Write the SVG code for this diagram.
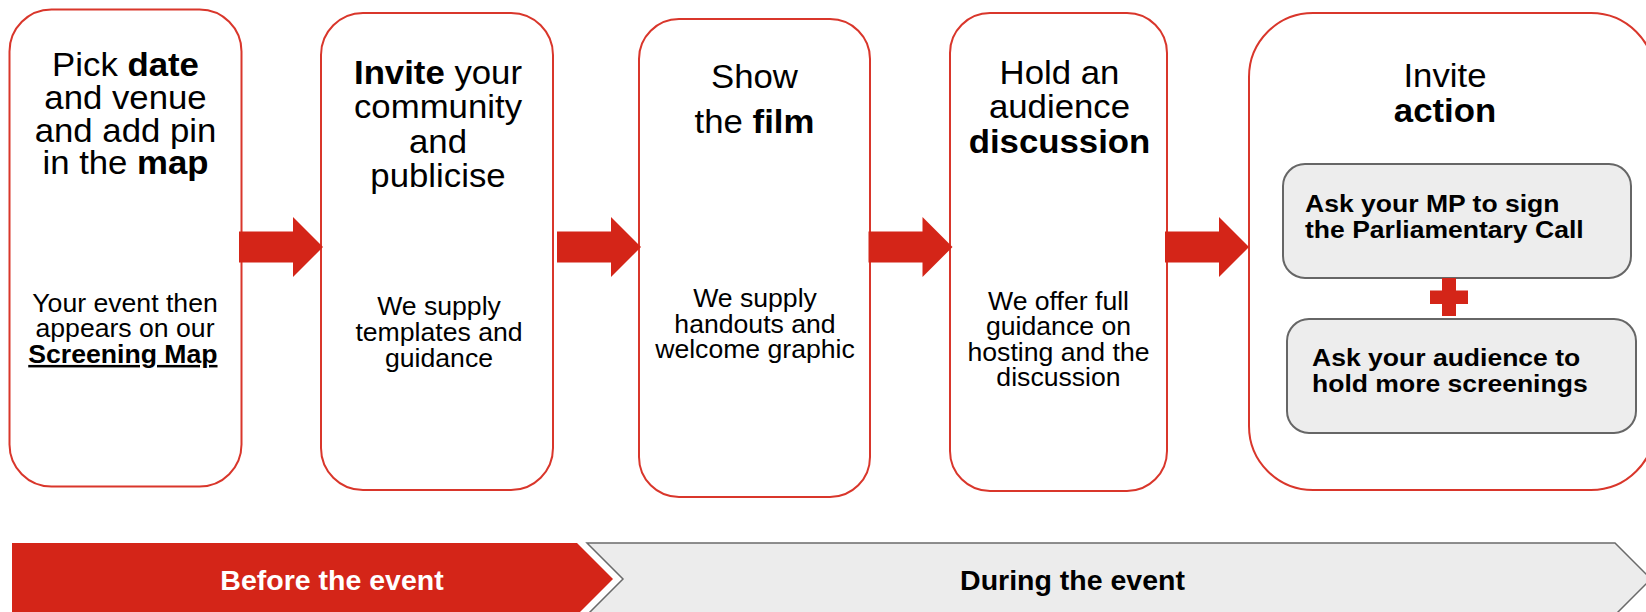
<svg xmlns="http://www.w3.org/2000/svg" width="1646" height="612" viewBox="0 0 1646 612">
  <style>
    .step { fill: #ffffff; stroke: #d9362b; stroke-width: 2; }
    .card { fill: #ededed; stroke: #666666; stroke-width: 2; }
    .red { fill: #d42518; }
    text { font-family: "Liberation Sans", Arial, Helvetica, sans-serif; fill: #000000; }
    .title { font-size: 32.5px; text-anchor: middle; }
    .sub { font-size: 25px; text-anchor: middle; }
    .card-text { font-size: 24.8px; font-weight: bold; }
    .phase { font-size: 28.5px; font-weight: bold; text-anchor: middle; }
    .b { font-weight: bold; }
  </style>
  <defs>
    <!-- block arrow: 54px shaft, 30px head, centred on y=0 -->
    <path id="block-arrow" d="M0,-15.5 H54 V-30 L84,0 L54,30 V15.5 H0 Z"/>
  </defs>

  <rect width="1646" height="612" fill="#ffffff"/>

  <!-- step 1 -->
  <g id="step-pick-date">
    <rect class="step" x="9.5" y="9.5" width="232" height="477" rx="42" ry="42"/>
    <g transform="translate(125.5,0) scale(1.07,1)">
      <text class="title" x="0" y="76">Pick <tspan class="b">date</tspan></text>
      <text class="title" x="0" y="109">and venue</text>
      <text class="title" x="0" y="142">and add pin</text>
      <text class="title" x="0" y="174.5">in the <tspan class="b">map</tspan></text>
    </g>
    <g transform="translate(125,0) scale(1.065,1)">
      <text class="sub" x="0" y="312">Your event then</text>
      <text class="sub" x="0" y="337">appears on our</text>
      <text class="sub" x="-2" y="363"><tspan class="b" text-decoration="underline">Screening Map</tspan></text>
    </g>
  </g>

  <!-- step 2 -->
  <g id="step-invite-community">
    <rect class="step" x="321" y="13" width="232" height="477" rx="42" ry="42"/>
    <g transform="translate(438,0) scale(1.07,1)">
      <text class="title" x="0" y="84"><tspan class="b">Invite</tspan> your</text>
      <text class="title" x="0" y="118">community</text>
      <text class="title" x="0" y="153">and</text>
      <text class="title" x="0" y="187">publicise</text>
    </g>
    <g transform="translate(439,0) scale(1.065,1)">
      <text class="sub" x="0" y="315">We supply</text>
      <text class="sub" x="0" y="341">templates and</text>
      <text class="sub" x="0" y="367">guidance</text>
    </g>
  </g>

  <!-- step 3 -->
  <g id="step-show-film">
    <rect class="step" x="639" y="19" width="231" height="478" rx="40" ry="40"/>
    <g transform="translate(754.5,0) scale(1.07,1)">
      <text class="title" x="0" y="88">Show</text>
      <text class="title" x="0" y="133">the <tspan class="b">film</tspan></text>
    </g>
    <g transform="translate(755,0) scale(1.065,1)">
      <text class="sub" x="0" y="307">We supply</text>
      <text class="sub" x="0" y="333">handouts and</text>
      <text class="sub" x="0" y="358">welcome graphic</text>
    </g>
  </g>

  <!-- step 4 -->
  <g id="step-discussion">
    <rect class="step" x="950" y="13" width="217" height="478" rx="40" ry="40"/>
    <g transform="translate(1059.5,0) scale(1.07,1)">
      <text class="title" x="0" y="84">Hold an</text>
      <text class="title" x="0" y="118">audience</text>
      <text class="title b" x="0" y="153">discussion</text>
    </g>
    <g transform="translate(1058.5,0) scale(1.065,1)">
      <text class="sub" x="0" y="310">We offer full</text>
      <text class="sub" x="0" y="335">guidance on</text>
      <text class="sub" x="0" y="361.5">hosting and the</text>
      <text class="sub" x="0" y="386.5">discussion</text>
    </g>
  </g>

  <!-- step 5 with its two actions -->
  <g id="step-invite-action">
    <rect class="step" x="1249" y="13" width="406" height="477" rx="64" ry="64"/>
    <g transform="translate(1445,0) scale(1.07,1)">
      <text class="title" x="0" y="87">Invite</text>
      <text class="title b" x="0" y="122">action</text>
    </g>
  </g>
  <g id="action-mp">
    <rect class="card" x="1283" y="164" width="348" height="114" rx="22" ry="22"/>
    <g transform="translate(1305,0) scale(1.07,1)">
      <text class="card-text" x="0" y="212.5">Ask your MP to sign</text>
      <text class="card-text" x="0" y="238">the Parliamentary Call</text>
    </g>
  </g>
  <g id="action-plus">
    <rect class="red" x="1442" y="278" width="14" height="38"/>
    <rect class="red" x="1430" y="290.5" width="38" height="13.5"/>
  </g>
  <g id="action-audience">
    <rect class="card" x="1287" y="319" width="349" height="114" rx="22" ry="22"/>
    <g transform="translate(1312,0) scale(1.07,1)">
      <text class="card-text" x="0" y="366.5">Ask your audience to</text>
      <text class="card-text" x="0" y="392.5">hold more screenings</text>
    </g>
  </g>

  <!-- phase bar -->
  <g id="phase-before">
    <polygon class="red" points="12,543 577,543 613,579 577,615 12,615"/>
    <text class="phase" x="332" y="589.5" style="fill:#ffffff">Before the event</text>
  </g>
  <g id="phase-during">
    <polygon points="587,543 1615,543 1651,579 1615,615 587,615 623,579" fill="#ececec" stroke="#6a6a6a" stroke-width="1.5"/>
    <text class="phase" x="1072.5" y="589.5">During the event</text>
  </g>

  <!-- connectors between steps -->
  <g id="connectors">
    <use href="#block-arrow" class="red" x="239" y="247"/>
    <use href="#block-arrow" class="red" x="557" y="247"/>
    <use href="#block-arrow" class="red" x="868.5" y="247"/>
    <use href="#block-arrow" class="red" x="1165" y="247"/>
  </g>
</svg>
